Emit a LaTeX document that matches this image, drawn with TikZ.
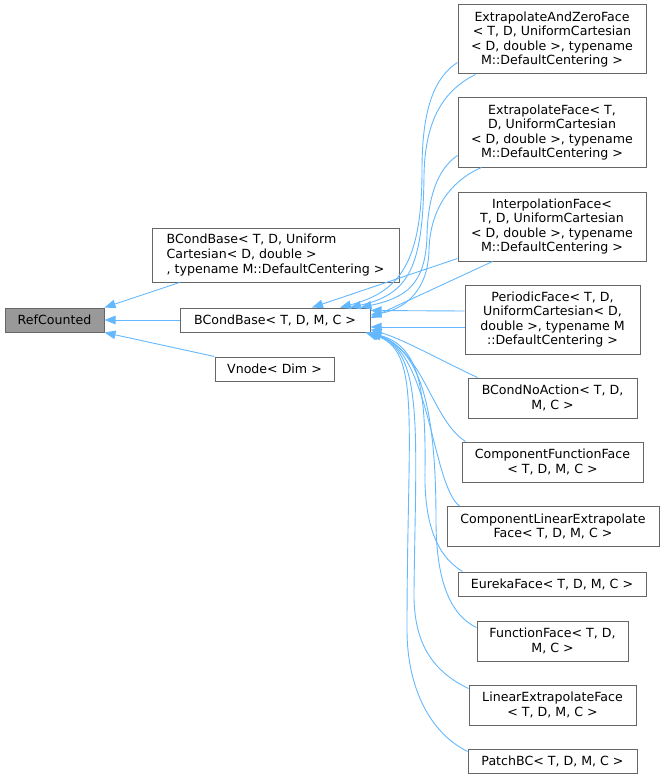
\documentclass[tikz,border=0pt]{standalone}
\usepackage{fontspec}
\setmainfont{DejaVu Sans}
\usetikzlibrary{arrows.meta}
\definecolor{edgec}{HTML}{63B8FF}
\definecolor{boxc}{HTML}{666666}
\definecolor{hlc}{HTML}{999999}
\tikzset{
  box/.style={draw=boxc, line width=1pt, fill=white, inner sep=0pt, align=center,
    font=\fontsize{12.6}{14.6}\selectfont, text=black},
  inh/.style={draw=edgec, line width=0.9pt, -{Triangle[length=11pt,width=8.5pt]}},
}
\begin{document}
\begin{tikzpicture}[x=1pt,y=1pt]
\useasboundingbox (0,0) rectangle (664,-781);
% nodes
\node[box, fill=hlc, minimum width=99pt, minimum height=24pt] (rc) at (54.5,-320) {RefCounted};
\node[box, align=left, minimum width=247pt, minimum height=54pt] (bcu) at (275.5,-255)
  {BCondBase< T, D, Uniform\\Cartesian< D, double >\\, typename M::DefaultCentering >};
\node[box, minimum width=190pt, minimum height=24pt] (bcb) at (275,-320) {BCondBase< T, D, M, C >};
\node[box, minimum width=119pt, minimum height=24pt] (vn) at (274.5,-369) {Vnode< Dim >};
\node[box, minimum width=188pt, minimum height=69pt] (eazf) at (552,-39.5)
  {ExtrapolateAndZeroFace\\< T, D, UniformCartesian\\< D, double >, typename\\M::DefaultCentering >};
\node[box, minimum width=188pt, minimum height=69pt] (ef) at (552,-132.5)
  {ExtrapolateFace< T,\\D, UniformCartesian\\< D, double >, typename\\M::DefaultCentering >};
\node[box, minimum width=188pt, minimum height=69pt] (if) at (552,-226.5)
  {InterpolationFace<\\T, D, UniformCartesian\\< D, double >, typename\\M::DefaultCentering >};
\node[box, minimum width=175pt, minimum height=69pt] (pf) at (552.5,-319.5)
  {PeriodicFace< T, D,\\UniformCartesian< D,\\double >, typename M\\::DefaultCentering >};
\node[box, minimum width=169pt, minimum height=40pt] (bna) at (552.5,-398)
  {BCondNoAction< T, D,\\M, C >};
\node[box, minimum width=181pt, minimum height=40pt] (cff) at (552.5,-462)
  {ComponentFunctionFace\\< T, D, M, C >};
\node[box, minimum width=212pt, minimum height=40pt] (clef) at (553,-526.5)
  {ComponentLinearExtrapolate\\Face< T, D, M, C >};
\node[box, minimum width=188pt, minimum height=24pt] (eur) at (552,-584)
  {EurekaFace< T, D, M, C >};
\node[box, minimum width=151pt, minimum height=40pt] (ff) at (552.5,-641)
  {FunctionFace< T, D,\\M, C >};
\node[box, minimum width=167pt, minimum height=40pt] (lef) at (552.5,-705)
  {LinearExtrapolateFace\\< T, D, M, C >};
\node[box, minimum width=169pt, minimum height=24pt] (pbc) at (552.5,-761)
  {PatchBC< T, D, M, C >};
% edges to RefCounted
\draw[inh] ([shift={(28,0)}]bcu.south west) -- (rc.north east);
\draw[inh] (bcb.west) -- (rc.east);
\draw[inh] (vn.north west) -- (rc.south east);
% edges to BCondBase< T, D, M, C >
\draw[inh] ([shift={(0,12)}]eazf.south west) .. controls (430,-80) and (422,-120) .. (422,-170)
  .. controls (422,-262) and (400,-292) .. ([shift={(65,0)}]bcb.north);
\draw[inh] ([shift={(18,0)}]eazf.south west) .. controls (440,-92) and (425,-125) .. (424,-175)
  .. controls (423,-266) and (410,-294) .. ([shift={(75,0)}]bcb.north);
\draw[inh] ([shift={(0,12)}]ef.south west) .. controls (436,-170) and (428,-200) .. (427,-235)
  .. controls (426,-285) and (405,-298) .. ([shift={(-10,0)}]bcb.north east);
\draw[inh] ([shift={(24,0)}]ef.south west) .. controls (448,-182) and (430,-212) .. (429,-250)
  .. controls (428,-295) and (400,-310) .. ([shift={(0,5)}]bcb.east);
\draw[inh] ([shift={(0,3)}]if.south west) -- ([shift={(37,0)}]bcb.north);
\draw[inh] ([shift={(35,0)}]if.south west) -- ([shift={(0,2)}]bcb.east);
\draw[inh] ([shift={(0,8.5)}]pf.west) -- ([shift={(0,-3)}]bcb.north east);
\draw[inh] ([shift={(0,-7.5)}]pf.west) -- ([shift={(0,-7)}]bcb.east);
\draw[inh] ([shift={(10,0)}]bna.north west) .. controls (440,-360) and (405,-340) .. ([shift={(0,3)}]bcb.south east);
\draw[inh] ([shift={(4,0)}]cff.north west) .. controls (432,-420) and (424,-352) .. (bcb.south east);
\draw[inh] ([shift={(13,0)}]clef.north west) .. controls (432,-485) and (430,-352) .. ([shift={(-1,0)}]bcb.south east);
\draw[inh] ([shift={(5,0)}]eur.north west) .. controls (435,-555) and (424,-520) .. (425,-470)
  .. controls (426,-385) and (418,-345) .. ([shift={(-2,0)}]bcb.south east);
\draw[inh] ([shift={(0,-7)}]ff.north west) .. controls (450,-615) and (436,-580) .. (436,-520)
  .. controls (436,-400) and (418,-348) .. ([shift={(-3,0)}]bcb.south east);
\draw[inh] ([shift={(0,-4)}]lef.north west) .. controls (430,-670) and (413,-640) .. (414,-590)
  .. controls (416,-430) and (424,-350) .. ([shift={(-4,0)}]bcb.south east);
\draw[inh] ([shift={(0,-3)}]pbc.north west) .. controls (425,-730) and (407,-680) .. (407,-630)
  .. controls (407,-420) and (422,-350) .. ([shift={(-5,0)}]bcb.south east);
\end{tikzpicture}
\end{document}
